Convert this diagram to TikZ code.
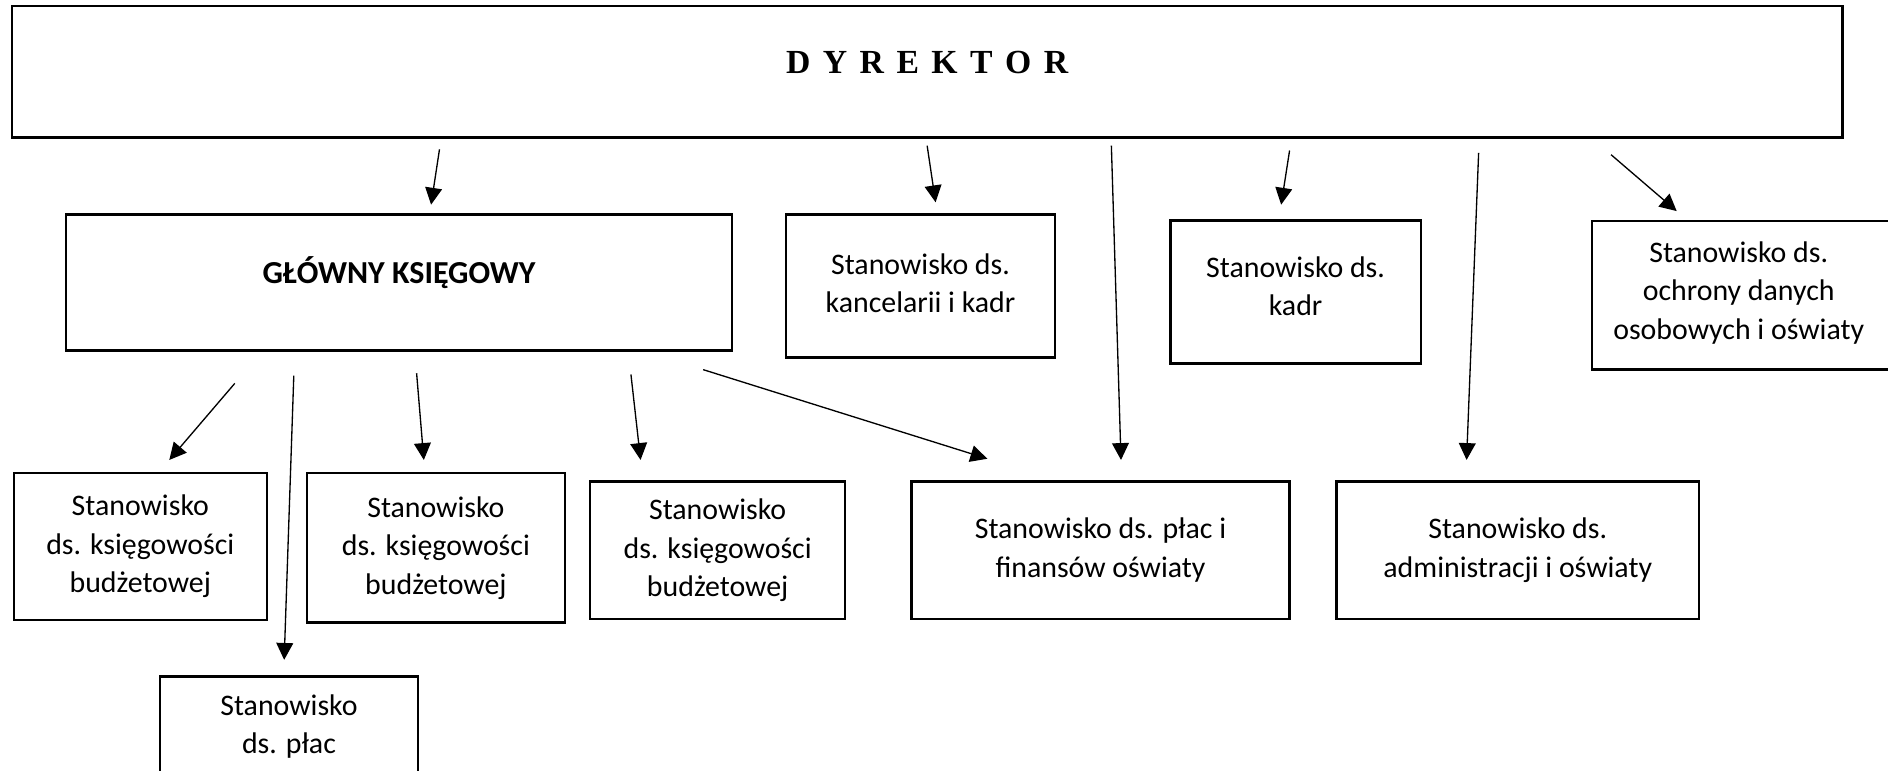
\documentclass[tikz,border=0pt]{standalone}
\usepackage{fontspec}
\setmainfont{Carlito}
\newfontfamily\timesfont{Liberation Serif}
\usetikzlibrary{arrows.meta}

\tikzset{
  box/.style={draw, line width=1pt, align=center, inner sep=0pt},
  arr/.style={line width=0.55pt, -{Triangle[length=7pt,width=7pt]}},
}
\newcommand{\lsp}{\hspace{0.37em}}

\begin{document}
\begin{tikzpicture}[x=0.5pt, y=-0.5pt, font=\fontsize{12.4}{16}\selectfont]
\useasboundingbox (0,0) rectangle (1568,640.3);

% top
\node[box, line width=1.2pt, minimum width=760pt, minimum height=54.5pt, text depth=8pt] (dyr) at (770,59.5)
  {\timesfont\bfseries\fontsize{14}{16}\selectfont D\lsp Y\lsp R\lsp E\lsp K\lsp T\lsp O\lsp R};

% second row
\node[box, minimum width=276.5pt, minimum height=56.5pt, text depth=10.5pt] (gk) at (331.5,234.5)
  {\fontsize{13.3}{16}\selectfont\textbf{GŁÓWNY KSIĘGOWY}};
\node[box, minimum width=111.5pt, minimum height=59.5pt, text depth=2.5pt] (kanc) at (764.5,237.5) {Stanowisko ds.\\kancelarii i kadr};
\node[box, minimum width=104pt, minimum height=59.5pt, text depth=5pt] (kadr) at (1076,242.5) {Stanowisko ds.\\kadr};
\node[box, minimum width=149pt, minimum height=61.7pt] (odo) at (1471,245.3) {};
\node[align=center] (odotxt) at (1444,243) {Stanowisko ds.\\ochrony danych\\osobowych i oświaty};

% third row
\node[box, minimum width=105pt, minimum height=61pt] (kb1) at (116.5,454) {Stanowisko\\ds. księgowości\\budżetowej};
\node[box, minimum width=107pt, minimum height=62pt] (kb2) at (362,455) {Stanowisko\\ds. księgowości\\budżetowej};
\node[box, minimum width=106pt, minimum height=57pt] (kb3) at (596,457) {Stanowisko\\ds. księgowości\\budżetowej};
\node[box, minimum width=157pt, minimum height=57pt] (pfo) at (914,457) {Stanowisko ds. płac i\\finansów oświaty};
\node[box, minimum width=150.5pt, minimum height=57pt] (adm) at (1260.5,457) {Stanowisko ds.\\administracji i oświaty};
\node[box, minimum width=107pt, minimum height=41.5pt] (plac) at (240,603.5) {Stanowisko\\ds. płac};

% arrow ends
\coordinate (dA) at (365,124);  \coordinate (dA1) at (358,170);
\coordinate (dB) at (770,121);  \coordinate (dB1) at (777,168);
\coordinate (dC) at (923,121);  \coordinate (dC1) at (931,382);
\coordinate (dD) at (1071,125); \coordinate (dD1) at (1064,170);
\coordinate (dE) at (1228,127); \coordinate (dE1) at (1218,382);
\coordinate (dF) at (1338,128.5); \coordinate (dF1) at (1392.5,175.3);
\coordinate (gA) at (195,318.4); \coordinate (gA1) at (140.6,382);
\coordinate (gB) at (244,312);  \coordinate (gB1) at (236,548);
\coordinate (gC) at (346,310);  \coordinate (gC1) at (352,382);
\coordinate (gD) at (524,311);  \coordinate (gD1) at (532,382);
\coordinate (gE) at (584,307);  \coordinate (gE1) at (820,381);

\draw[arr] (dA)--(dA1);
\draw[arr] (dB)--(dB1);
\draw[arr] (dC)--(dC1);
\draw[arr] (dD)--(dD1);
\draw[arr] (dE)--(dE1);
\draw[arr] (dF)--(dF1);
\draw[arr] (gA)--(gA1);
\draw[arr] (gB)--(gB1);
\draw[arr] (gC)--(gC1);
\draw[arr] (gD)--(gD1);
\draw[arr] (gE)--(gE1);

\end{tikzpicture}
\end{document}
